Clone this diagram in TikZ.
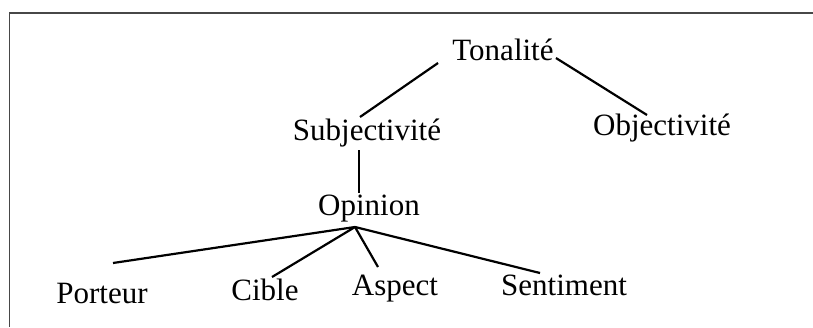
\documentclass[tikz,border=0pt]{standalone}
\usepackage{fontspec}
\setmainfont{Liberation Serif}
\usetikzlibrary{calc,positioning}

\begin{document}
\begin{tikzpicture}[x=0.5pt,y=-0.5pt,
    term/.style={inner sep=0pt,anchor=base,font=\fontsize{15.5}{18}\selectfont},
    branch/.style={line width=1.1pt},
    frame/.style={line width=0.65pt,draw=black!72}]
      \useasboundingbox (0,0) rectangle (813,327);
      \draw[frame] (813,13) -| (9.5,327);
      \node (ton) [term] at (503,60) {Tonalité};
      \node (subj) [term] at (367,140) {Subjectivité};
      \node (obj) [term] at (662,135) {Objectivité};
      \node (op) [term] at (369,215) {Opinion};
      \node (port) [term] at (102,303) {Porteur};
      \node (cib) [term] at (265,300) {Cible};
      \node (asp) [term] at (395,295) {Aspect};
      \node (sen) [term] at (564,295) {Sentiment};
      \coordinate (hub) at ([shift={(-14,12)}]op.base);
      \draw[branch] ([shift={(-14,3)}]ton.base west) -- ([shift={(-7,-23)}]subj.base);
      \draw[branch] ([shift={(2,-2)}]ton.base east) -- ([shift={(-15,-20)}]obj.base);
      \draw[branch] ([shift={(-8,10)}]subj.base) -- ([shift={(-10,-22)}]op.base);
      \draw[branch] (hub) -- ([shift={(11,-40)}]port.base);
      \draw[branch] (hub) -- ([shift={(7,-23)}]cib.base);
      \draw[branch] (hub) -- ([shift={(-17,-28)}]asp.base);
      \draw[branch] (hub) -- ([shift={(-24,-22)}]sen.base);
    \end{tikzpicture}
\end{document}
